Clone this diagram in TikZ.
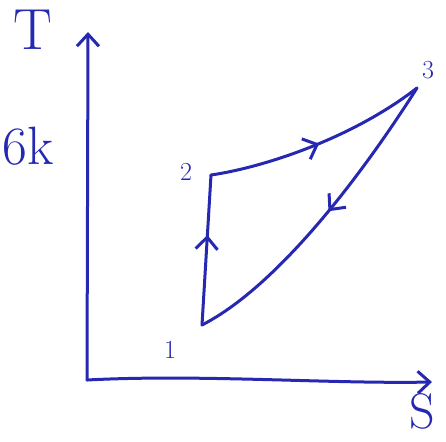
\documentclass[tikz,border=0pt]{standalone}
\usepackage{fontspec}
\usepackage{tikz}
\usetikzlibrary{arrows.meta,decorations.markings}
\newdimen\unitsize
\setlength{\unitsize}{1pt}
\definecolor{inkblue}{RGB}{38,40,178}
\tikzset{
  ink/.style={draw=inkblue,line width=3\unitsize,line cap=round,line join=round},
  axisarrow/.style={ink,-{Straight Barb[length=12pt,width=22pt,line width=3pt]}},
  midarrow/.style={ink,postaction={decorate},decoration={markings,
    mark=at position #1 with {\arrow{Straight Barb[length=12pt,width=22pt,line width=3pt]}}}},
  lbl/.style={text=inkblue,inner sep=0pt},
}
\begin{document}
\begin{tikzpicture}[x=\unitsize,y=-\unitsize]
\useasboundingbox (0,0) rectangle (446,441);
% axes
\coordinate (O) at (87,380);
\coordinate (Tend) at (88,32);
\coordinate (Send) at (432,382);
\draw[axisarrow] (O) -- (Tend);
\draw[axisarrow] (O) .. controls (200,374) and (330,384) .. (Send);
\node[lbl,font=\fontsize{58}{58}\selectfont] (Tlab) at (33,30) {T};
\node[lbl,font=\fontsize{50}{50}\selectfont] (Slab) at (422,411) {S};
\node[lbl,font=\fontsize{54}{54}\selectfont,anchor=east] (sk) at (54,146) {6k};
% cycle
\coordinate (p1) at (202,325);
\coordinate (p2) at (211,175);
\coordinate (p3) at (417,88);
\draw[midarrow=0.6] (p1) -- (p2);
\draw[midarrow=0.5] (p2) .. controls (260,168) and (350,140) .. (p3);
\draw[midarrow=0.47] (p3) .. controls (365,170) and (280,285) .. (p1);
\node[lbl,font=\fontsize{26}{26}\selectfont] (n1) at (170,350) {1};
\node[lbl,font=\fontsize{26}{26}\selectfont] (n2) at (186,172) {2};
\node[lbl,font=\fontsize{26}{26}\selectfont] (n3) at (428,70) {3};
\end{tikzpicture}
\end{document}
